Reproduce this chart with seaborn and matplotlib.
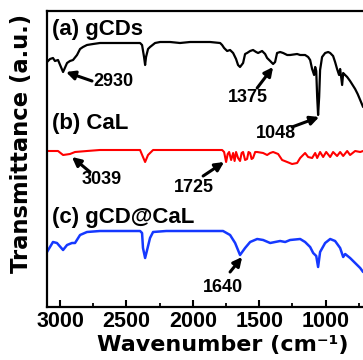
"""FTIR spectra of gCDs, CaL and gCD@CaL"""

import matplotlib

matplotlib.use("Agg")
import matplotlib.pyplot as plt
import seaborn as sns
import pandas as pd
from matplotlib.ticker import MultipleLocator

##### Data (wavenumber in cm-1, transmittance in a.u.) #####
wn_gcds = [3098, 3075, 3053, 3038, 3015, 2977, 2947, 2925, 2902, 2872, 2849, 2827,
           2797, 2751, 2699, 2623, 2548, 2472, 2397, 2382, 2367, 2359, 2352, 2337,
           2322, 2284, 2246, 2171, 2096, 2020, 1945, 1870, 1794, 1779, 1764, 1741,
           1719, 1696, 1674, 1659, 1644, 1621, 1606, 1591, 1568, 1546, 1523, 1508,
           1478, 1455, 1440, 1417, 1395, 1380, 1365, 1342, 1319, 1289, 1267, 1214,
           1191, 1154, 1131, 1116, 1101, 1086, 1078, 1070, 1063, 1056, 1048, 1041,
           1026, 1003, 980, 965, 943, 928, 913, 898, 890, 875, 867, 860, 837, 815,
           796, 777, 758, 739, 717]
t_gcds = [245, 248, 249, 246, 247, 235, 244, 246, 247, 252, 258, 260,
          262, 263, 264, 264, 264, 264, 264, 262, 250, 242, 250, 258,
          260, 264, 265, 265, 264, 265, 265, 265, 264, 262, 259, 256,
          257, 254, 248, 242, 240, 244, 253, 254, 256, 257, 255, 254,
          256, 253, 249, 246, 243, 245, 254, 255, 254, 252, 252, 253,
          252, 252, 250, 247, 238, 232, 240, 236, 210, 192, 210, 237,
          250, 254, 255, 254, 251, 245, 238, 232, 238, 222, 234, 233, 230, 226,
          222, 218, 213, 207, 200]

wn_cal = [3098, 3015, 2977, 2925, 2887, 2797, 2700, 2397, 2375, 2359, 2337, 2299,
          2200, 1800, 1779, 1764, 1749, 1737, 1726, 1711, 1696, 1685, 1674, 1659,
          1644, 1632, 1621, 1606, 1591, 1580, 1568, 1557, 1546, 1530, 1515, 1470,
          1440, 1417, 1395, 1357, 1327, 1289, 1252, 1214, 1191, 1154, 1131, 1101,
          1078, 1063, 1041, 1018, 995, 965, 943, 913, 890, 867, 837, 815, 777,
          739, 717]
t_cal = [156, 156, 152, 153, 155, 156, 157, 157, 150, 145, 152, 157,
         157, 157, 157, 155, 145, 153, 155, 147, 154, 146, 155, 149,
         146, 154, 155, 147, 148, 155, 154, 148, 149, 155, 155, 154,
         152, 154, 155, 153, 147, 145, 143, 144, 149, 154, 150, 149,
         154, 149, 155, 150, 155, 150, 155, 151, 155, 151, 156, 152, 156,
         155, 156]

wn_gcdcal = [3098, 3053, 3023, 2977, 2947, 2910, 2887, 2849, 2797, 2699, 2500, 2397,
             2382, 2375, 2359, 2344, 2322, 2299, 2200, 2000, 1800, 1772, 1719, 1681,
             1644, 1606, 1568, 1515, 1470, 1417, 1380, 1342, 1304, 1267, 1191, 1154,
             1116, 1093, 1070, 1056, 1041, 1003, 965, 928, 890, 867, 852, 815, 777,
             739, 717]
t_gcdcal = [55, 65, 64, 57, 62, 64, 64, 72, 75, 76, 76, 76,
            74, 59, 49, 57, 69, 75, 76, 76, 76, 76, 72, 64,
            52, 59, 65, 68, 67, 64, 65, 66, 65, 67, 68, 65,
            60, 54, 51, 40, 55, 64, 68, 66, 59, 50, 53, 49, 44,
            39, 35]

series_labels = ["(a) gCDs", "(b) CaL", "(c) gCD@CaL"]
peak_labels = ["2930", "1375", "1048", "3039", "1725", "1640"]

SANS = "Liberation Sans"


def plot_ftir():
    sns.set_style("ticks")
    plt.rcParams["font.family"] = [SANS, "DejaVu Sans"]
    plt.rcParams["font.weight"] = "bold"
    for key in ["text.color", "axes.labelcolor", "xtick.color", "ytick.color",
                "axes.edgecolor"]:
        plt.rcParams[key] = "black"

    fig = plt.figure(figsize=(3.63, 3.60), dpi=100)
    ax = fig.add_axes([47 / 363, 53 / 360, 325 / 363, 296 / 360])

    spectra = [
        (wn_gcds, t_gcds, "black", 1.6),
        (wn_cal, t_cal, "#ff0000", 1.5),
        (wn_gcdcal, t_gcdcal, "#1538ff", 1.8),
    ]
    for wn, t, color, lw in spectra:
        df = pd.DataFrame({"wavenumber": wn, "transmittance": t})
        sns.lineplot(data=df, x="wavenumber", y="transmittance", color=color,
                     linewidth=lw, estimator=None, sort=False, ax=ax)

    ax.set_xlim(3098, 650)
    ax.set_ylim(0, 296)
    ax.xaxis.set_major_locator(MultipleLocator(500))
    ax.xaxis.set_minor_locator(MultipleLocator(250))
    ax.set_yticks([])
    ax.tick_params(axis="x", which="major", direction="in", length=5, width=1.5,
                   pad=3, labelsize=15.5)
    ax.tick_params(axis="x", which="minor", direction="in", length=3, width=1.3)
    for lab in ax.get_xticklabels():
        lab.set_fontweight("bold")
    for sp in ax.spines.values():
        sp.set_linewidth(1.6)

    ax.set_xlabel("Wavenumber (cm\u207b\u00b9)", fontsize=16, fontweight="bold",
                  family="DejaVu Sans", va="center")
    ax.set_ylabel("Transmittance (a.u.)", fontsize=16.3, fontweight="bold",
                  family="DejaVu Sans", va="center")
    ax.xaxis.set_label_coords(0.5415, -0.128)
    ax.yaxis.set_label_coords(-0.077, 0.554)

    # series names
    for lab, ypos in zip(series_labels, [277, 184, 90]):
        ax.text(3060, ypos, lab, fontsize=16, fontweight="bold", ha="left",
                va="center")

    # peak annotations: (arrow head, arrow tail, text centre)
    arrows = [
        ((2955, 235), (2759, 226), (2601, 226)),
        ((1395, 240), (1515, 219), (1583, 209)),
        ((1048, 190), (1252, 180), (1372, 174)),
        ((2910, 150), (2774, 135), (2683, 127)),
        ((1764, 145), (1922, 131), (1990, 119)),
        ((1628, 50), (1719, 35), (1772, 20)),
    ]
    for lab, (head, tail, txt) in zip(peak_labels, arrows):
        ax.annotate("", xy=head, xytext=tail,
                    arrowprops=dict(arrowstyle="-|>", color="black", lw=2.2,
                                    mutation_scale=13, shrinkA=0, shrinkB=0))
        ax.text(txt[0], txt[1], lab, fontsize=13, fontweight="bold",
                ha="center", va="center")

    fig.savefig("out.png", dpi=100)
    plt.close(fig)


if __name__ == "__main__":
    plot_ftir()
